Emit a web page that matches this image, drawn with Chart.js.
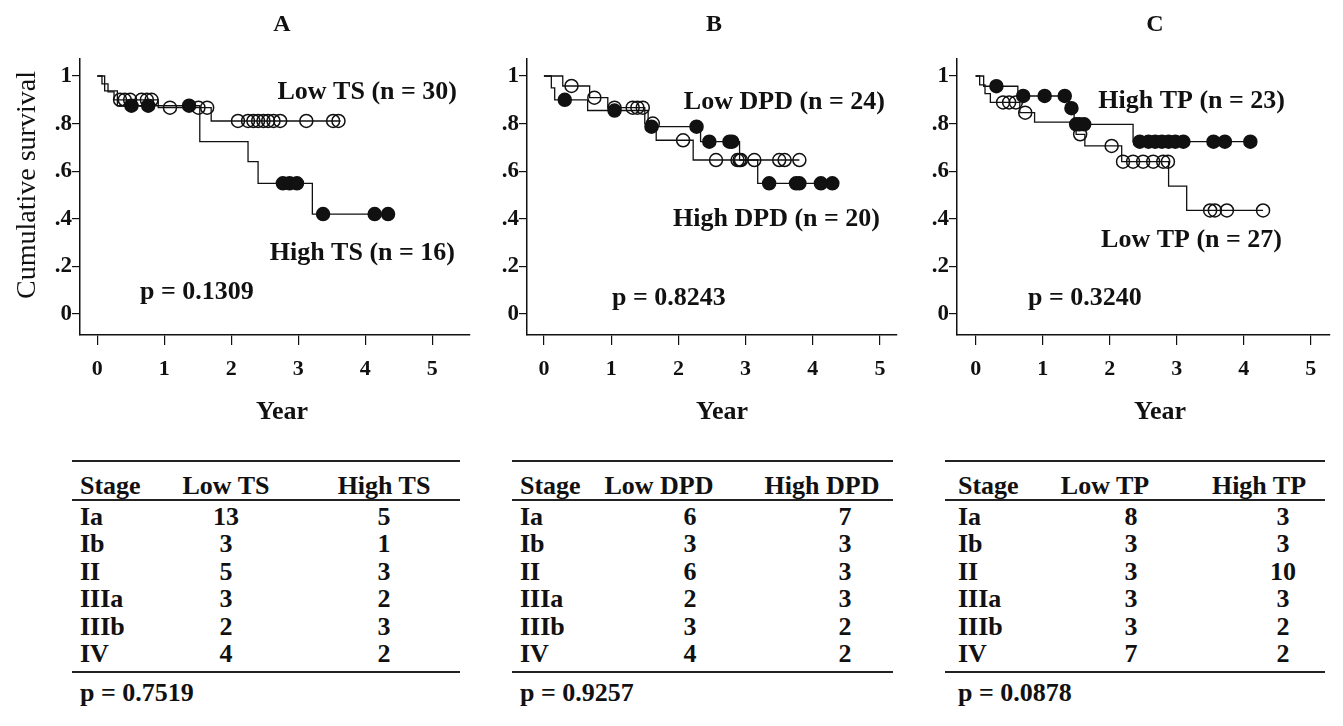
<!DOCTYPE html>
<html>
<head>
<meta charset="utf-8">
<script src="https://cdn.jsdelivr.net/npm/chart.js@4.4.1/dist/chart.umd.min.js"></script>
<style>
  body { margin: 0; background: #fff; width: 1343px; height: 726px; position: relative; overflow: hidden;
         font-family: "Liberation Serif", "Times New Roman", serif; color: #111; }
  canvas { position: absolute; top: 0; }
  .rule { position: absolute; background: #222; }
  .cell { position: absolute; font-weight: bold; font-size: 26px; line-height: 1; white-space: nowrap; }
  .mid { transform: translate(-50%, -50%); }
  .left { transform: translate(0, -50%); }
</style>
</head>
<body>
<canvas id="chartA" width="480" height="440" style="left:0px"></canvas>
<canvas id="chartB" width="465" height="440" style="left:440px"></canvas>
<canvas id="chartC" width="466" height="440" style="left:877px"></canvas>
<div id="tables"></div>

<script>
// Eixos
const yearTicks = [0, 1, 2, 3, 4, 5];
const survTicks = [0, 0.1, 0.2, 0.3, 0.4, 0.5, 0.6, 0.7, 0.8, 0.9, 1];
const survLabels = ['0', '', '.2', '', '.4', '', '.6', '', '.8', '', '1'];

// A - TS
const lowTSTime = [0, 0.07, 0.16, 0.25, 0.91, 1.70, 3.63];
const lowTSSurv = [1, 0.967, 0.933, 0.900, 0.867, 0.811, 0.811];
const lowTSCens = [0.34, 0.41, 0.49, 0.66, 0.74, 0.81, 1.085, 1.51, 1.64, 2.10, 2.25, 2.33, 2.40, 2.48, 2.55, 2.63, 2.73, 3.12, 3.52, 3.60];
const highTSTime = [0, 0.11, 0.30, 1.53, 2.25, 2.40, 3.21, 4.34];
const highTSSurv = [1, 0.9375, 0.875, 0.724, 0.640, 0.549, 0.420, 0.420];
const highTSCens = [0.51, 0.76, 1.37, 2.77, 2.87, 2.98, 3.37, 4.14, 4.34];

// B - DPD
const lowDPDTime = [0, 0.28, 0.68, 0.95, 1.50, 1.67, 2.22, 3.80];
const lowDPDSurv = [1, 0.958, 0.909, 0.867, 0.800, 0.730, 0.647, 0.647];
const lowDPDCens = [0.41, 0.75, 1.05, 1.32, 1.39, 1.47, 1.62, 2.07, 2.56, 2.88, 2.91, 2.93, 3.13, 3.50, 3.58, 3.80];
const highDPDTime = [0, 0.11, 0.16, 0.65, 1.55, 2.33, 2.91, 3.18, 4.29];
const highDPDSurv = [1, 0.95, 0.90, 0.855, 0.787, 0.724, 0.647, 0.549, 0.549];
const highDPDCens = [0.31, 1.05, 1.60, 2.27, 2.46, 2.76, 2.80, 3.35, 3.75, 3.80, 4.12, 4.29];

// C - TP
const highTPTime = [0, 0.12, 0.63, 1.40, 1.47, 2.35, 4.10];
const highTPSurv = [1, 0.957, 0.916, 0.865, 0.797, 0.724, 0.724];
const highTPCens = [0.31, 0.71, 1.03, 1.33, 1.43, 1.50, 1.55, 1.62, 2.45, 2.58, 2.68, 2.78, 2.88, 2.98, 3.10, 3.55, 3.72, 4.10];
const lowTPTime = [0, 0.06, 0.14, 0.22, 0.66, 0.88, 1.50, 1.63, 2.18, 2.88, 3.15, 4.29];
const lowTPSurv = [1, 0.963, 0.926, 0.889, 0.846, 0.806, 0.755, 0.706, 0.640, 0.537, 0.435, 0.435];
const lowTPCens = [0.41, 0.50, 0.60, 0.74, 1.56, 2.03, 2.20, 2.35, 2.50, 2.65, 2.80, 2.87, 3.50, 3.57, 3.75, 4.29];

// Tabelas por estadio
const stages = ['Ia', 'Ib', 'II', 'IIIa', 'IIIb', 'IV'];
const lowTSStage = [13, 3, 5, 3, 2, 4];
const highTSStage = [5, 1, 3, 2, 3, 2];
const lowDPDStage = [6, 3, 6, 2, 3, 4];
const highDPDStage = [7, 3, 3, 3, 2, 2];
const lowTPStage = [8, 3, 3, 3, 3, 7];
const highTPStage = [3, 3, 10, 3, 2, 2];

// valor da curva no tempo t (para posicionar a censura)
function survAt(times, surv, t) {
    let s = surv[0];
    for (let i = 0; i < times.length; i++) {
        if (times[i] <= t + 1e-9) s = surv[i];
    }
    return s;
}

function curve(times, surv) {
    return {
        data: times.map((t, i) => ({ x: t, y: surv[i] })),
        showLine: true, stepped: true, borderColor: '#111', borderWidth: 1.3,
        pointRadius: 0, order: 2
    };
}

function censors(cens, times, surv, filled) {
    return {
        data: cens.map(t => ({ x: t, y: survAt(times, surv, t) })),
        showLine: false, pointStyle: 'circle', pointRadius: 6.5,
        pointBorderColor: '#111', pointBorderWidth: 1.5,
        pointBackgroundColor: filled ? '#111' : 'rgba(0,0,0,0)', order: 1
    };
}

const textPlugin = {
    id: 'textItems',
    afterDraw(chart, args, opts) {
        const ctx = chart.ctx;
        (opts.items || []).forEach(it => {
            ctx.save();
            ctx.font = it.font || 'bold 26px "Liberation Serif"';
            ctx.fillStyle = '#111';
            ctx.textAlign = it.align || 'center';
            ctx.textBaseline = 'middle';
            ctx.translate(it.x, it.y);
            if (it.rotate) ctx.rotate(it.rotate);
            ctx.fillText(it.text, 0, 0);
            ctx.restore();
        });
    }
};

function makePanel(id, cfg) {
    const tickFont = { family: 'Liberation Serif', weight: 'bold', size: 22 };
    new Chart(document.getElementById(id), {
        type: 'scatter',
        data: { datasets: cfg.datasets },
        plugins: [textPlugin],
        options: {
            responsive: false,
            animation: false,
            layout: { padding: { top: 59, right: cfg.padRight, bottom: 0, left: 0 } },
            plugins: {
                legend: { display: false },
                tooltip: { enabled: false },
                textItems: { items: cfg.items }
            },
            scales: {
                x: {
                    type: 'linear', min: cfg.xMin, max: cfg.xMax,
                    afterBuildTicks: s => { s.ticks = yearTicks.map(v => ({ value: v })); },
                    afterFit: s => { s.height = 105; },
                    grid: { drawOnChartArea: false, tickLength: 10, color: '#111', lineWidth: 1.2 },
                    border: { color: '#111', width: 1.5 },
                    ticks: { font: tickFont, color: '#111', padding: 11, maxRotation: 0 }
                },
                y: {
                    type: 'linear', min: -0.0882, max: 1.0714,
                    afterBuildTicks: s => { s.ticks = survTicks.map(v => ({ value: v })); },
                    afterFit: s => { s.width = cfg.yWidth; },
                    grid: { drawOnChartArea: false, tickLength: 8, color: '#111', lineWidth: 1.2 },
                    border: { color: '#111', width: 1.5 },
                    ticks: {
                        font: { family: 'Liberation Serif', weight: 'bold', size: 23 }, color: '#111', padding: 0,
                        callback: (v, i) => survLabels[survTicks.indexOf(Math.round(v * 10) / 10)]
                    }
                }
            }
        }
    });
}

const F = 'bold 26px "Liberation Serif"';

makePanel('chartA', {
    xMin: -0.258, xMax: 5.563, yWidth: 80, padRight: 10,
    datasets: [
        censors(lowTSCens, lowTSTime, lowTSSurv, false),
        censors(highTSCens, highTSTime, highTSSurv, true),
        curve(lowTSTime, lowTSSurv),
        curve(highTSTime, highTSSurv)
    ],
    items: [
        { text: 'A', x: 282, y: 25, font: 'bold 24px "Liberation Serif"' },
        { text: 'Cumulative survival', x: 28, y: 185, rotate: -Math.PI / 2, font: '28px "Liberation Serif"' },
        { text: 'Low TS (n = 30)', x: 457, y: 92, align: 'right', font: F },
        { text: 'High TS (n = 16)', x: 455, y: 253, align: 'right', font: F },
        { text: 'p = 0.1309', x: 140, y: 292, align: 'left', font: F },
        { text: 'Year', x: 282, y: 412, font: F }
    ]
});

makePanel('chartB', {
    xMin: -0.252, xMax: 5.252, yWidth: 87, padRight: 7,
    datasets: [
        censors(lowDPDCens, lowDPDTime, lowDPDSurv, false),
        censors(highDPDCens, highDPDTime, highDPDSurv, true),
        curve(lowDPDTime, lowDPDSurv),
        curve(highDPDTime, highDPDSurv)
    ],
    items: [
        { text: 'B', x: 274, y: 25, font: 'bold 24px "Liberation Serif"' },
        { text: 'Low DPD (n = 24)', x: 445, y: 102, align: 'right', font: F },
        { text: 'High DPD (n = 20)', x: 440, y: 219, align: 'right', font: F },
        { text: 'p = 0.8243', x: 172, y: 298, align: 'left', font: F },
        { text: 'Year', x: 282, y: 412, font: F }
    ]
});

makePanel('chartC', {
    xMin: -0.278, xMax: 5.289, yWidth: 80, padRight: 13,
    datasets: [
        censors(highTPCens, highTPTime, highTPSurv, true),
        censors(lowTPCens, lowTPTime, lowTPSurv, false),
        curve(highTPTime, highTPSurv),
        curve(lowTPTime, lowTPSurv)
    ],
    items: [
        { text: 'C', x: 278, y: 25, font: 'bold 24px "Liberation Serif"' },
        { text: 'High TP (n = 23)', x: 408, y: 101, align: 'right', font: F },
        { text: 'Low TP (n = 27)', x: 405, y: 240, align: 'right', font: F },
        { text: 'p = 0.3240', x: 151, y: 298, align: 'left', font: F },
        { text: 'Year', x: 283, y: 412, font: F }
    ]
});

// Tabelas
function addDiv(cls, text, x, y) {
    const d = document.createElement('div');
    d.className = cls;
    d.textContent = text;
    d.style.left = x + 'px';
    d.style.top = y + 'px';
    document.getElementById('tables').appendChild(d);
}

function addRule(x1, x2, y, h) {
    const d = document.createElement('div');
    d.className = 'rule';
    d.style.left = x1 + 'px';
    d.style.width = (x2 - x1) + 'px';
    d.style.top = y + 'px';
    d.style.height = h + 'px';
    document.getElementById('tables').appendChild(d);
}

function buildTable(t) {
    addRule(t.x1, t.x2, 460, 2);
    addDiv('cell left', 'Stage', t.stageX, 486);
    addDiv('cell mid', t.heads[0], t.headX[0], 486);
    addDiv('cell mid', t.heads[1], t.headX[1], 486);
    addRule(t.x1, t.x2, 499, 1.5);
    stages.forEach((s, i) => {
        const y = 517 + i * 27.4;
        addDiv('cell left', s, t.stageX, y);
        addDiv('cell mid', t.low[i], t.valX[0], y);
        addDiv('cell mid', t.high[i], t.valX[1], y);
    });
    addRule(t.x1, t.x2, 671, 2);
    addDiv('cell left', t.p, t.stageX, 693);
}

buildTable({ x1: 72, x2: 460, stageX: 80, heads: ['Low TS', 'High TS'], headX: [226, 384], valX: [226, 384],
    low: lowTSStage, high: highTSStage, p: 'p = 0.7519' });
buildTable({ x1: 512, x2: 893, stageX: 520, heads: ['Low DPD', 'High DPD'], headX: [659, 822], valX: [690, 845],
    low: lowDPDStage, high: highDPDStage, p: 'p = 0.9257' });
buildTable({ x1: 945, x2: 1325, stageX: 958, heads: ['Low TP', 'High TP'], headX: [1105, 1259], valX: [1131, 1283],
    low: lowTPStage, high: highTPStage, p: 'p = 0.0878' });
</script>
</body>
</html>
